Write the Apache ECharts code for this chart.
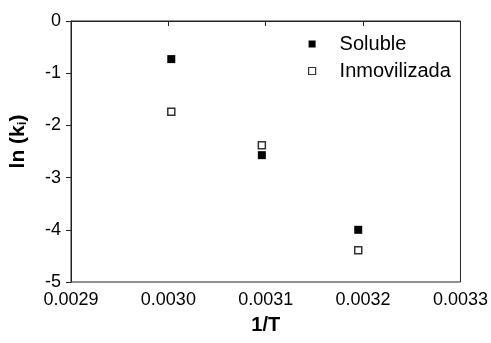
<!DOCTYPE html>
<html>
<head>
<meta charset="utf-8">
<script src="https://cdn.jsdelivr.net/npm/echarts@6/dist/echarts.min.js"></script>
<style>
  html, body { margin: 0; padding: 0; background: #fff; }
  #chart { width: 491px; height: 343px; }
</style>
</head>
<body>
<div id="chart"></div>
<script>
// Inverse temperature (1/K) for each measurement
const invT = [0.003003, 0.003096, 0.003195];
// ln(ki) for the soluble and immobilised enzyme
const soluble = [-0.73, -2.57, -4.00];
const inmovilizada = [-1.74, -2.38, -4.39];

const xTicks = [0.0029, 0.0030, 0.0031, 0.0032, 0.0033];
const yTicks = [-5, -4, -3, -2, -1, 0];

const font = '"Liberation Sans", Arial, sans-serif';

const chart = echarts.init(document.getElementById('chart'), null, { renderer: 'canvas' });

chart.setOption({
  animation: false,
  backgroundColor: '#fff',
  grid: { left: 70, right: 29, top: 21, bottom: 61, show: true, borderColor: '#222', borderWidth: 1 },
  legend: {
    orient: 'vertical',
    left: 303,
    top: 29,
    itemWidth: 7,
    itemHeight: 7,
    itemGap: 7,
    icon: 'rect',
    textStyle: { fontFamily: font, fontSize: 20, color: '#000', padding: [0, 0, 0, 19] },
    data: [
      { name: 'Soluble', itemStyle: { color: '#000', borderColor: '#000', borderWidth: 0 } },
      { name: 'Inmovilizada', itemStyle: { color: '#fff', borderColor: '#333', borderWidth: 1.2 } }
    ]
  },
  xAxis: {
    type: 'value',
    min: xTicks[0],
    max: xTicks[xTicks.length - 1],
    interval: 0.0001,
    name: '1/T',
    nameLocation: 'middle',
    nameGap: 33,
    nameTextStyle: { fontFamily: font, fontSize: 20, fontWeight: 'bold', color: '#000' },
    axisLine: { lineStyle: { color: '#222', width: 1 } },
    axisTick: { show: true, inside: false, length: 5, lineStyle: { color: '#222' } },
    axisLabel: {
      margin: 9,
      fontFamily: font, fontSize: 18, color: '#000',
      formatter: v => {
        const t = xTicks.find(x => Math.abs(x - v) < 1e-9);
        return t !== undefined ? t.toFixed(4) : '';
      }
    },
    splitLine: { show: false }
  },
  yAxis: {
    type: 'value',
    min: yTicks[0],
    max: yTicks[yTicks.length - 1],
    interval: 1,
    name: '{n|ln (k}{s|i}{n|)}',
    nameLocation: 'middle',
    nameGap: 42,
    nameRotate: 90,
    nameTextStyle: {
      padding: [0, 0, 0, 20],
      rich: {
        n: { fontFamily: font, fontSize: 21, fontWeight: 'bold', color: '#000' },
        s: { fontFamily: font, fontSize: 13, fontWeight: 'bold', color: '#000', verticalAlign: 'bottom', padding: [7, 0, 0, 0] }
      }
    },
    axisLine: { show: true, lineStyle: { color: '#222', width: 1 } },
    axisTick: { show: true, inside: false, length: 5, lineStyle: { color: '#222' } },
    axisLabel: { margin: 10, fontFamily: font, fontSize: 18, color: '#000' },
    splitLine: { show: false }
  },
  series: [
    {
      name: 'Soluble',
      type: 'scatter',
      symbol: 'rect',
      symbolSize: 8,
      itemStyle: { color: '#000', opacity: 1 },
      data: invT.map((x, i) => [x, soluble[i]])
    },
    {
      name: 'Inmovilizada',
      type: 'scatter',
      symbol: 'rect',
      symbolSize: 7,
      itemStyle: { color: '#fff', borderColor: '#333', borderWidth: 1.5, opacity: 1 },
      data: invT.map((x, i) => [x, inmovilizada[i]])
    }
  ]
});
</script>
</body>
</html>
